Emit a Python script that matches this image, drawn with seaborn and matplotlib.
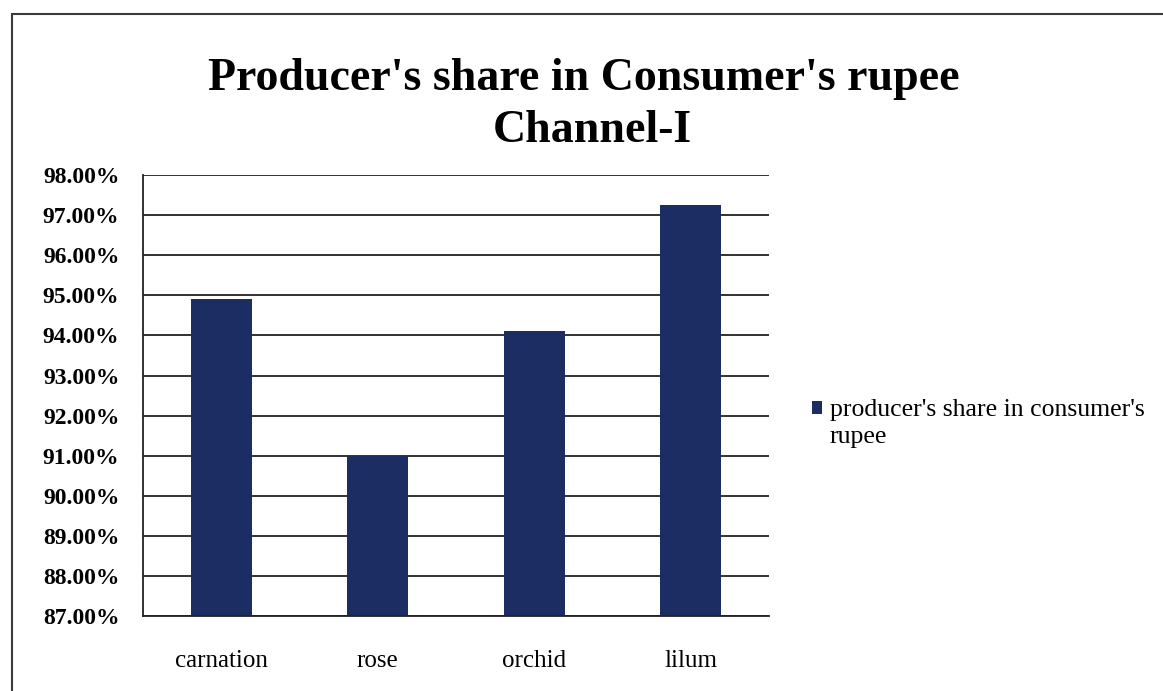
import matplotlib
matplotlib.use("Agg")
import matplotlib.pyplot as plt
import matplotlib.ticker as mticker
from matplotlib.patches import Rectangle
from matplotlib.legend_handler import HandlerPatch
import seaborn as sns
import pandas as pd

# Producer's share in the consumer's rupee, marketing channel I
flowers = ["carnation", "rose", "orchid", "lilum"]
share_pct = [94.9, 91.0, 94.1, 97.25]
series_name = "producer's share in consumer's\nrupee"
y_ticks = [87, 88, 89, 90, 91, 92, 93, 94, 95, 96, 97, 98]

df = pd.DataFrame({"flower": flowers, "share": share_pct, "series": series_name})

sns.set_theme(style="white")
plt.rcParams["font.family"] = ["Liberation Serif", "DejaVu Serif"]
plt.rcParams["text.color"] = "black"
plt.rcParams["xtick.labelcolor"] = "black"
plt.rcParams["ytick.labelcolor"] = "black"

fig = plt.figure(figsize=(11.63, 6.91), dpi=100)
ax = fig.add_axes([0.123, 0.108, 0.538, 0.639])

bar_color = "#1b2d63"
sns.barplot(data=df, x="flower", y="share", hue="series", palette=[bar_color],
            width=0.39, ax=ax, saturation=1, edgecolor="none")

ax.set_ylim(y_ticks[0], y_ticks[-1])
ax.set_xlim(-0.5, len(flowers) - 0.5)
ax.set_yticks(y_ticks)
ax.yaxis.set_major_formatter(mticker.FuncFormatter(lambda v, p: f"{v:.2f}%"))
ax.set_xlabel("")
ax.set_ylabel("")

# Horizontal gridlines behind the bars
ax.set_axisbelow(True)
ax.yaxis.grid(True, color="#222222", linewidth=1.3)
ax.xaxis.grid(False)

for side in ["top", "right"]:
    ax.spines[side].set_visible(False)
for side in ["left", "bottom"]:
    ax.spines[side].set_visible(True)
    ax.spines[side].set_color("#222222")
    ax.spines[side].set_linewidth(1.3)

ax.tick_params(axis="y", which="major", direction="out", length=7, width=1.3,
               color="#222222", pad=10, labelsize=17)
for lab in ax.get_yticklabels():
    lab.set_fontweight("bold")

# Category boundary ticks below the x axis
ax.set_xticks([i - 0.5 for i in range(len(flowers) + 1)], minor=True)
ax.tick_params(axis="x", which="minor", direction="out", length=5, width=1.2,
               color="#222222")
ax.tick_params(axis="x", which="major", length=0, pad=24, labelsize=18)


# Legend swatch sits beside the first line of the wrapped label
def top_aligned_square(legend, orig_handle, xdescent, ydescent, width, height, fontsize):
    return Rectangle((-xdescent, -ydescent + 0.62 * fontsize), width, height)


leg = ax.legend(loc="upper left", bbox_to_anchor=(0.6895, 0.437),
                bbox_transform=fig.transFigure, frameon=False,
                fontsize=18.5, handlelength=0.38, handleheight=0.38,
                handletextpad=0.3, borderaxespad=0, labelspacing=0,
                handler_map={Rectangle: HandlerPatch(patch_func=top_aligned_square)})
for t in leg.get_texts():
    t.set_linespacing(1.3)

# Two-line chart title
fig.text(0.502, 0.885, "Producer's share in Consumer's rupee",
         ha="center", va="center", fontsize=33, fontweight="bold", color="black")
fig.text(0.509, 0.810, "Channel-I",
         ha="center", va="center", fontsize=33, fontweight="bold", color="black")

# Chart-area frame
fig.patches.append(Rectangle((12 / 1163, -0.05), 1.2, 1 - 14 / 691 + 0.05,
                             transform=fig.transFigure, fill=False,
                             edgecolor="#3a3a3a", linewidth=1.5))

fig.savefig("out.png", dpi=100, facecolor="white")
